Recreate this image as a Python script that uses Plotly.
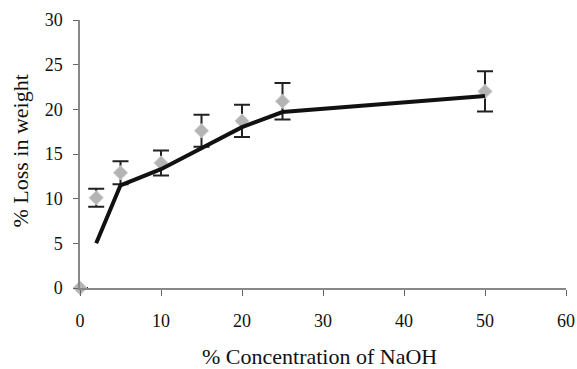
import plotly.graph_objects as go

conc_points = [0, 2, 5, 10, 15, 20, 25, 50]
loss_points = [0, 10.1, 12.9, 14.0, 17.6, 18.7, 20.9, 22.0]
loss_err = [0, 1.0, 1.3, 1.4, 1.8, 1.8, 2.05, 2.25]

conc_line = [2, 5, 10, 15, 20, 25, 50]
loss_line = [5.0, 11.5, 13.3, 15.6, 18.0, 19.7, 21.5]

x_ticks = [0, 10, 20, 30, 40, 50, 60]
y_ticks = [0, 5, 10, 15, 20, 25, 30]

FONT = "'Liberation Serif', 'Times New Roman', Times, serif"

fig = go.Figure()
fig.add_trace(go.Scatter(
    x=conc_points, y=loss_points, mode="markers",
    marker=dict(symbol="diamond", size=11, color="#b4b4b4",
                line=dict(color="#d2d2d2", width=1)),
    error_y=dict(type="data", array=loss_err, visible=True,
                 color="#222222", thickness=2, width=8),
    cliponaxis=False, showlegend=False,
))
fig.add_trace(go.Scatter(
    x=conc_line, y=loss_line, mode="lines",
    line=dict(color="#111111", width=4),
    cliponaxis=False, showlegend=False,
))

fig.update_layout(
    width=577, height=369,
    margin=dict(l=80, r=11, t=20, b=81),
    paper_bgcolor="white", plot_bgcolor="white",
    font=dict(family=FONT, size=18, color="#111111"),
    xaxis=dict(range=[0, 60], tickvals=x_ticks, showgrid=False, zeroline=False,
               showline=True, linecolor="#888888", linewidth=1.5,
               ticks="outside", ticklen=6, tickcolor="#666666",
               ticklabelstandoff=10, automargin=False,
               tickfont=dict(family=FONT, size=18)),
    yaxis=dict(range=[0, 30], tickvals=y_ticks, showgrid=False, zeroline=False,
               showline=True, linecolor="#888888", linewidth=1.5,
               ticks="outside", ticklen=5, tickcolor="#666666",
               ticklabelstandoff=7, automargin=False,
               tickfont=dict(family=FONT, size=18)),
    annotations=[
        dict(text="% Concentration of NaOH", xref="paper", yref="paper",
             x=0.492, y=-0.257, xanchor="center", yanchor="middle",
             showarrow=False, font=dict(family=FONT, size=22)),
        dict(text="% Loss in weight", xref="paper", yref="paper",
             x=-0.123, y=0.51, xanchor="center", yanchor="middle", textangle=-90,
             showarrow=False, font=dict(family=FONT, size=22)),
    ],
)

fig.write_html("out.html")
